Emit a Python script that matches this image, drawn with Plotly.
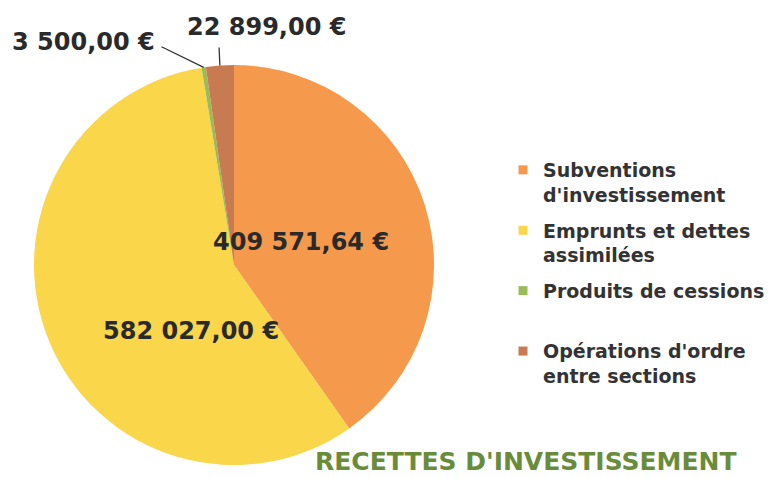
import math
import plotly.graph_objects as go

categories = ["Subventions<br>d'investissement",
              "Emprunts et dettes<br>assimilées",
              "Produits de cessions<br> ",
              "Opérations d'ordre<br>entre sections"]
values = [409571.64, 582027.00, 3500.00, 22899.00]
value_labels = ["409 571,64 €", "582 027,00 €", "3 500,00 €", "22 899,00 €"]
colors = ["#F59A4C", "#F9D64A", "#9BBB59", "#C87A50"]

W, H = 779, 477
OFF = 8  # page body margin, positions below are screen pixels


def px(x):
    return (x - OFF) / W


def py(y):
    return 1 - (y - OFF) / H


# pie geometry (screen pixels)
cx, cy, r = 234, 265, 200

fig = go.Figure()

fig.add_trace(go.Pie(
    labels=categories,
    values=values,
    sort=False,
    direction='clockwise',
    rotation=0,
    textinfo='none',
    hoverinfo='skip',
    showlegend=False,
    marker=dict(colors=colors, line=dict(width=0)),
    domain=dict(x=[px(cx - r), px(cx + r)], y=[py(cy + r), py(cy - r)]),
))

# legend entries
for i, (cat, col) in enumerate(zip(categories, colors)):
    fig.add_trace(go.Scatter(
        x=[None], y=[None], mode='markers', name=cat,
        marker=dict(symbol='square', size=9, color=col),
        legendgroup=str(i), showlegend=True,
    ))

label_font = dict(family="DejaVu Sans", size=24, color="#2a2a2a", weight="bold")

# big slices: labels inside
inside_pos = {0: (301, 242), 1: (191, 331)}
for i, (tx, ty) in inside_pos.items():
    fig.add_annotation(x=px(tx), y=py(ty), xref='paper', yref='paper',
                       xanchor='center', yanchor='middle',
                       text=value_labels[i], showarrow=False, font=label_font)

# small slices: labels outside with lines to the slice
total = sum(values)
cum = 0
mids = []
for v in values:
    mids.append((cum + v / 2) / total * 2 * math.pi)
    cum += v

outside = {2: ((83, 42), (160, 46)), 3: ((266, 27), (219, 46))}
for i, ((tx, ty), (ax, ay)) in outside.items():
    hx = cx + r * math.sin(mids[i])
    hy = cy - r * math.cos(mids[i])
    fig.add_annotation(x=px(tx), y=py(ty), xref='paper', yref='paper',
                       xanchor='center', yanchor='middle',
                       text=value_labels[i], showarrow=False, font=label_font)
    fig.add_annotation(x=px(hx), y=py(hy), xref='paper', yref='paper',
                       text="", showarrow=True, arrowhead=0,
                       arrowwidth=1.3, arrowcolor="#333333", standoff=0,
                       axref='pixel', ayref='pixel', ax=ax - hx, ay=ay - hy)

fig.add_annotation(x=px(526), y=py(461), xref='paper', yref='paper',
                   xanchor='center', yanchor='middle',
                   text="RECETTES D'INVESTISSEMENT", showarrow=False,
                   font=dict(family="DejaVu Sans", size=25, color="#6A8C3A",
                             weight="bold"))

fig.update_layout(
    width=W,
    height=H,
    margin=dict(l=0, r=0, t=0, b=0),
    paper_bgcolor='white',
    plot_bgcolor='white',
    xaxis=dict(visible=False),
    yaxis=dict(visible=False),
    showlegend=True,
    legend=dict(
        x=px(503), y=py(151), xanchor='left', yanchor='top',
        font=dict(family="DejaVu Sans", size=19, color="#333333", weight="bold"),
        valign='top',
        tracegroupgap=8,
        bgcolor='rgba(0,0,0,0)',
    ),
)

fig.write_html("out.html")
